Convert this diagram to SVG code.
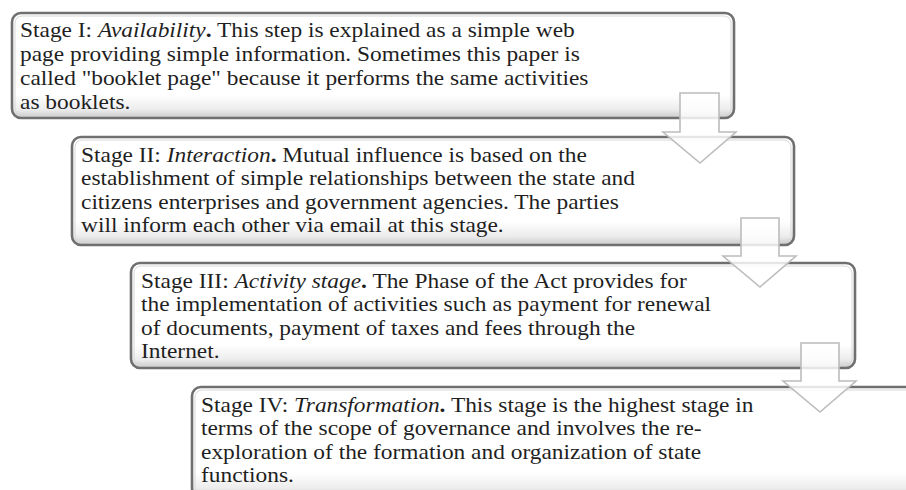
<svg xmlns="http://www.w3.org/2000/svg" width="906" height="490" viewBox="0 0 906 490">
<defs>
<linearGradient id="bev" x1="0" y1="0" x2="0" y2="1">
<stop offset="0" stop-color="#ffffff"/>
<stop offset="0.78" stop-color="#ffffff"/>
<stop offset="0.92" stop-color="#ececec"/>
<stop offset="1" stop-color="#c8c8c8"/>
</linearGradient>
</defs>
<style>
.box{fill:url(#bev);stroke:#6f6f6f;stroke-width:2.6}
.inner{fill:none;stroke:#d8d8d8;stroke-width:1}
.t{font-family:"Liberation Serif","Times New Roman",serif;font-size:20px;fill:#1f1f1f}
.i{font-style:italic}
.b{font-weight:bold}
.arr{fill:#ffffff;fill-opacity:0.82;stroke:#bcbcbc;stroke-width:1.6;stroke-linejoin:miter}
</style>
<rect width="906" height="490" fill="#ffffff"/>
<g id="stage1">
<rect class="box" x="12" y="13" width="722" height="105" rx="9"/>
<rect class="inner" x="15" y="16" width="716" height="99" rx="7"/>
<g transform="translate(20,0) scale(1.17,1)">
<text class="t" x="0" y="37">Stage I: <tspan class="i">Availability</tspan><tspan class="b">.</tspan> This step is explained as a simple web</text>
<text class="t" x="0" y="61">page providing simple information. Sometimes this paper is</text>
<text class="t" x="0" y="85">called "booklet page" because it performs the same activities</text>
<text class="t" x="0" y="109">as booklets.</text>
</g>
</g>
<g id="stage2">
<rect class="box" x="72" y="137" width="722" height="108" rx="9"/>
<rect class="inner" x="75" y="140" width="716" height="102" rx="7"/>
<g transform="translate(81,0) scale(1.17,1)">
<text class="t" x="0" y="162">Stage II: <tspan class="i">Interaction</tspan><tspan class="b">.</tspan> Mutual influence is based on the</text>
<text class="t" x="0" y="185.5">establishment of simple relationships between the state and</text>
<text class="t" x="0" y="209">citizens enterprises and government agencies. The parties</text>
<text class="t" x="0" y="232.5">will inform each other via email at this stage.</text>
</g>
</g>
<g id="stage3">
<rect class="box" x="131" y="263" width="724" height="105" rx="9"/>
<rect class="inner" x="134" y="266" width="718" height="99" rx="7"/>
<g transform="translate(141,0) scale(1.17,1)">
<text class="t" x="0" y="288">Stage III: <tspan class="i">Activity stage</tspan><tspan class="b">.</tspan> The Phase of the Act provides for</text>
<text class="t" x="0" y="311.5">the implementation of activities such as payment for renewal</text>
<text class="t" x="0" y="335">of documents, payment of taxes and fees through the</text>
<text class="t" x="0" y="358.5">Internet.</text>
</g>
</g>
<g id="stage4">
<rect class="box" x="192" y="387" width="724" height="110" rx="9"/>
<rect class="inner" x="195" y="390" width="718" height="104" rx="7"/>
<g transform="translate(201,0) scale(1.17,1)">
<text class="t" x="0" y="412">Stage IV: <tspan class="i">Transformation</tspan><tspan class="b">.</tspan> This stage is the highest stage in</text>
<text class="t" x="0" y="435.5">terms of the scope of governance and involves the re-</text>
<text class="t" x="0" y="459">exploration of the formation and organization of state</text>
<text class="t" x="0" y="482.5">functions.</text>
</g>
</g>
<g id="connectors">
<path class="arr" d="M680,93 L719,93 L719,132 L736,132 L700,163 L663,132 L680,132 Z"/>
<path class="arr" d="M741,218 L779,218 L779,256 L796,256 L760,287 L723,256 L741,256 Z"/>
<path class="arr" d="M801,343 L839,343 L839,381 L856,381 L820,412 L783,381 L801,381 Z"/>
</g>
</svg>
